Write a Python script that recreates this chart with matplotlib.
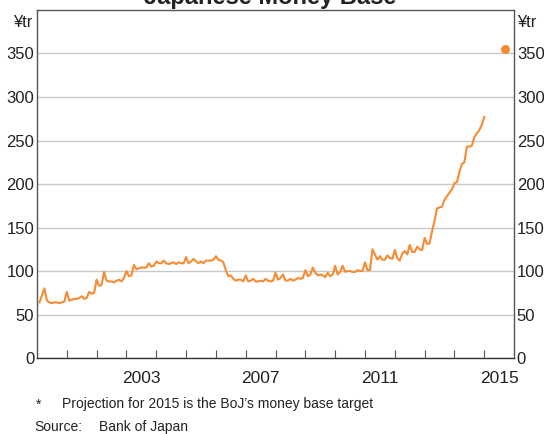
import numpy as np
import matplotlib.pyplot as plt
from matplotlib.ticker import FixedLocator, NullFormatter, FixedFormatter

plt.rcParams['font.family'] = ['Liberation Sans', 'DejaVu Sans']

# monthly money base, Jan 2000 - Dec 2014 (¥tr)
base_2000 = [64, 72, 80, 66, 64, 63, 64, 64, 63, 64, 65, 76]
base_2001 = [66, 67, 68, 68, 69, 71, 68, 69, 76, 74, 75, 90]
base_2002 = [83, 84, 99, 89, 88, 88, 87, 89, 90, 88, 92, 100]
base_2003 = [94, 95, 107, 102, 103, 104, 104, 104, 109, 105, 106, 111]
base_2004 = [109, 109, 112, 109, 108, 109, 110, 108, 110, 109, 109, 116]
base_2005 = [109, 111, 114, 111, 109, 111, 109, 112, 112, 112, 113, 117]
base_2006 = [113, 112, 110, 101, 94, 95, 91, 89, 90, 90, 88, 95]
base_2007 = [88, 89, 91, 88, 88, 89, 88, 91, 89, 88, 89, 98]
base_2008 = [90, 92, 96, 89, 89, 91, 89, 90, 92, 91, 92, 101]
base_2009 = [94, 96, 104, 98, 95, 96, 95, 93, 98, 94, 96, 106]
base_2010 = [96, 99, 106, 99, 100, 100, 99, 99, 101, 100, 100, 110]
base_2011 = [101, 101, 125, 119, 113, 117, 113, 113, 118, 115, 114, 124]
base_2012 = [115, 112, 120, 123, 119, 130, 122, 122, 128, 125, 124, 138]
base_2013 = [131, 132, 146, 158, 172, 173, 174, 182, 186, 190, 194, 201]
base_2014 = [202, 214, 223, 225, 243, 243, 244, 254, 258, 262, 268, 277]

values = (base_2000 + base_2001 + base_2002 + base_2003 + base_2004 + base_2005
          + base_2006 + base_2007 + base_2008 + base_2009 + base_2010 + base_2011
          + base_2012 + base_2013 + base_2014)
dates = 2000 + (np.arange(len(values)) + 1) / 12

# BoJ target for end-2015
target_date = 2015.7
target_value = 355

year_labels = ['2003', '2007', '2011', '2015']

orange = '#F68B33'
spine_col = '#555555'
text_col = '#222222'

fig = plt.figure(figsize=(5.44, 4.34), dpi=100)
ax = fig.add_axes([0.068, 0.175, 0.877, 0.802])

ax.plot(dates, values, color=orange, lw=1.5)
ax.plot([target_date], [target_value], 'o', color=orange, ms=6.5, mec='none')

ax.set_xlim(2000, 2016)
ax.set_ylim(0, 400)

ax.set_yticks([0, 50, 100, 150, 200, 250, 300, 350])
ax.yaxis.grid(True, color='#C8C8C8', lw=1)
ax.set_axisbelow(True)
ax.tick_params(axis='y', length=0, labelsize=12, pad=2, labelright=True,
               colors=text_col)

ax.xaxis.set_major_locator(FixedLocator(np.arange(2001, 2016)))
ax.xaxis.set_major_formatter(NullFormatter())
ax.xaxis.set_minor_locator(FixedLocator([2003.5, 2007.5, 2011.5, 2015.5]))
ax.xaxis.set_minor_formatter(FixedFormatter(year_labels))
ax.tick_params(axis='x', which='major', direction='in', length=6, color=spine_col)
ax.tick_params(axis='x', which='minor', length=0, labelsize=12.5, pad=9,
               colors=text_col)

for s in ax.spines.values():
    s.set_color(spine_col)
    s.set_linewidth(1)
ax.spines['bottom'].set_color('#333333')

ax.text(-0.01, 0.985, '¥tr', transform=ax.transAxes, ha='right', va='top',
        fontsize=12, color=text_col)
ax.text(1.006, 0.985, '¥tr', transform=ax.transAxes, ha='left', va='top',
        fontsize=12, color=text_col)

fig.text(0.496, 0.991, 'Japanese Money Base', ha='center', va='baseline',
         fontsize=17, fontweight='bold', color=text_col)

fig.text(0.066, 0.068, '*', fontsize=10, va='center', color=text_col)
fig.text(0.114, 0.068, 'Projection for 2015 is the BoJ\u2019s money base target',
         fontsize=10, va='center', color=text_col)
fig.text(0.064, 0.017, 'Source:', fontsize=10, va='center', color=text_col)
fig.text(0.182, 0.017, 'Bank of Japan', fontsize=10, va='center', color=text_col)

fig.savefig('out.png', dpi=100)
